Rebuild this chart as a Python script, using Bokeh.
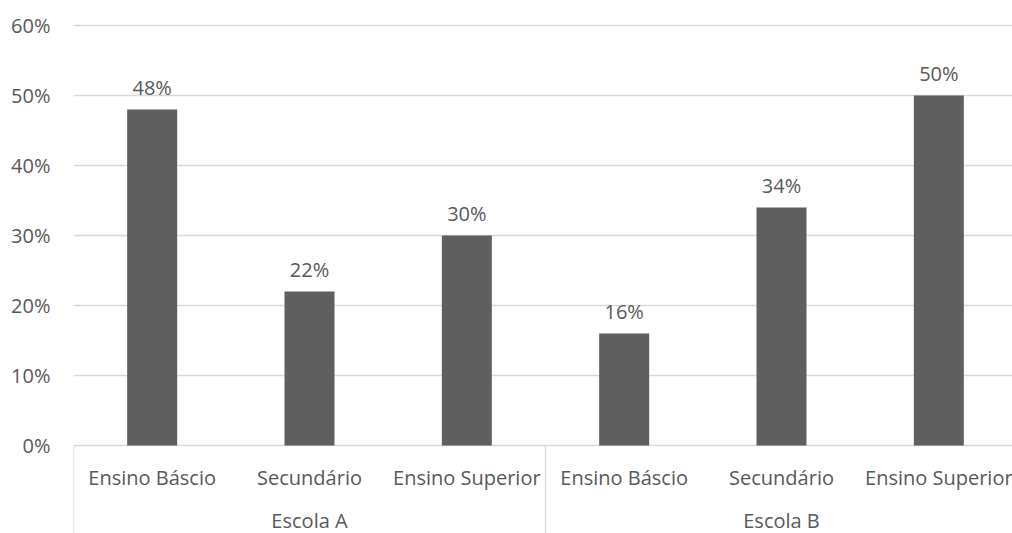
from bokeh.plotting import figure
from bokeh.models import ColumnDataSource, FixedTicker, NumeralTickFormatter, Range1d
from bokeh.core.properties import value
from bokeh.embed import file_html
from bokeh.resources import INLINE

groups = ["Escola A", "Escola B"]
levels = ["Ensino Báscio", "Secundário", "Ensino Superior"]
values_a = [0.48, 0.22, 0.30]
values_b = [0.16, 0.34, 0.50]
y_ticks = [0, 0.1, 0.2, 0.3, 0.4, 0.5, 0.6]

cats = [l for g in groups for l in levels]
vals = values_a + values_b
xs = [i + 0.5 for i in range(len(cats))]
labels = [f"{round(v*100)}%" for v in vals]

FONT = "Open Sans"
FS = "20px"
TXT = "#595959"
GRID = "#d9d9d9"
BAR = "#5f5f5f"

px_per_unit_y = 420 / 0.6
y_bottom = -(533 - 445) / px_per_unit_y
y_top = 0.6 + 2 / px_per_unit_y
slot_px = (1017 - 73) / 6
x_end = (1012 - 73) / slot_px

p = figure(width=1012, height=533, output_backend="svg", toolbar_location=None,
           x_range=Range1d(0, x_end), y_range=Range1d(y_bottom, y_top),
           min_border_left=73, min_border_right=0, min_border_top=23, min_border_bottom=0)
p.outline_line_color = None
p.xaxis.visible = False
p.xgrid.visible = False

p.yaxis.ticker = FixedTicker(ticks=y_ticks)
p.yaxis.formatter = NumeralTickFormatter(format="0%")
p.yaxis.axis_line_color = None
p.yaxis.major_tick_line_color = None
p.yaxis.minor_tick_line_color = None
p.yaxis.major_label_text_font = FONT
p.yaxis.major_label_text_font_size = FS
p.yaxis.major_label_text_color = TXT
p.yaxis.major_label_standoff = 17
p.ygrid.ticker = FixedTicker(ticks=y_ticks)
p.ygrid.grid_line_color = GRID
p.ygrid.grid_line_width = 1.5

src = ColumnDataSource(dict(x=xs, top=vals, lab=labels, cat=cats))
p.vbar(x="x", top="top", width=50 / slot_px, bottom=0, source=src,
       fill_color=BAR, line_color=None)

p.text(x="x", y="top", text="lab", source=src, y_offset=-9,
       text_align="center", text_baseline="bottom",
       text_font=value(FONT), text_font_size=FS, text_color=TXT)

cat_y = -32 / px_per_unit_y
p.text(x="x", y=cat_y, text="cat", source=src,
       text_align="center", text_baseline="middle",
       text_font=value(FONT), text_font_size=FS, text_color=TXT)

grp_x = [len(levels) * (i + 0.5) for i in range(len(groups))]
grp_y = -75 / px_per_unit_y
p.text(x=grp_x, y=[grp_y] * len(groups), text=groups,
       text_align="center", text_baseline="middle",
       text_font=value(FONT), text_font_size=FS, text_color=TXT)

sep_x = [len(levels) * i for i in range(len(groups) + 1)]
p.segment(x0=sep_x, y0=[0] * len(sep_x), x1=sep_x, y1=[y_bottom] * len(sep_x),
          line_color=GRID, line_width=1.5)

open("out.html", "w").write(file_html(p, INLINE))
